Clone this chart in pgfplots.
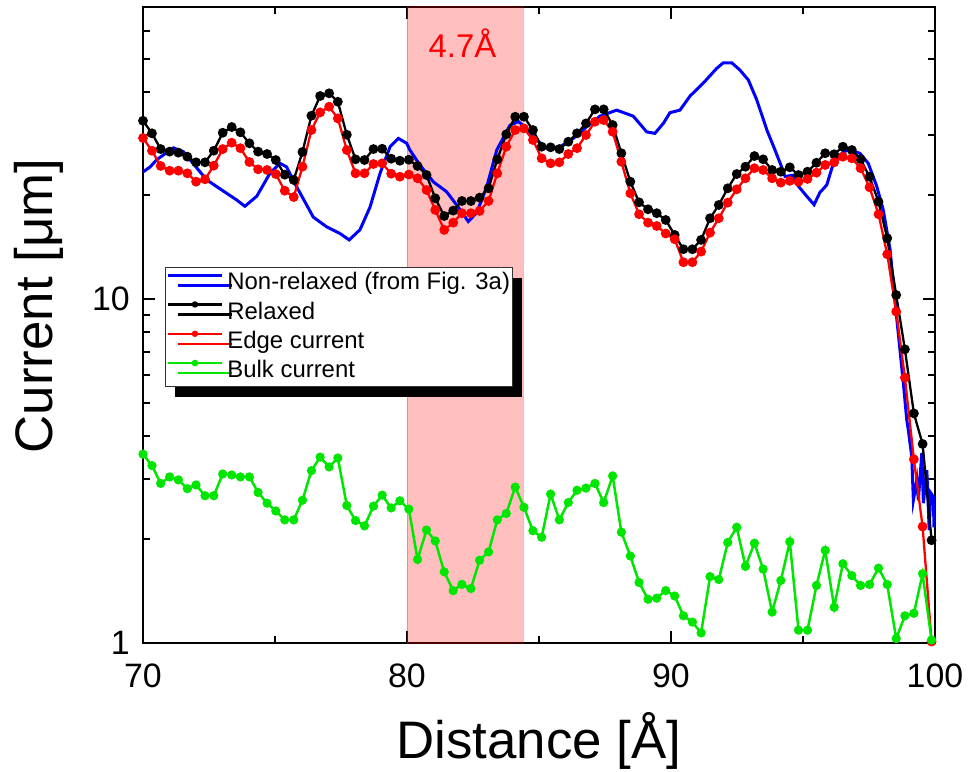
\documentclass[border=0pt]{standalone}
\usepackage{fontspec}
\setmainfont{Liberation Sans}
\usepackage{pgfplots}
\usepackage{pgfplotstable}
\pgfplotsset{compat=1.18}
\usetikzlibrary{shadows}
\definecolor{cgreen}{RGB}{0,230,0}

\pgfplotstableread{
x rel edge bulk
70.00 32.97 29.37 3.54
70.34 30.31 26.97 3.28
70.67 27.28 24.36 2.91
71.01 26.81 23.60 3.04
71.34 26.63 23.60 2.98
71.68 25.92 23.19 2.81
72.01 24.96 21.93 2.88
72.35 24.96 22.28 2.68
72.68 26.97 24.41 2.68
73.02 30.43 27.28 3.10
73.36 31.61 28.46 3.08
73.69 30.51 27.44 3.04
74.03 28.35 25.01 3.04
74.36 26.81 23.82 2.74
74.70 26.39 23.71 2.55
75.03 25.35 23.08 2.42
75.37 22.98 20.64 2.28
75.71 22.18 19.79 2.28
76.04 26.75 24.24 2.60
76.38 34.10 30.98 3.17
76.71 38.91 34.87 3.47
77.05 39.62 36.22 3.25
77.38 37.44 33.50 3.45
77.72 30.03 27.10 2.51
78.05 25.47 23.19 2.27
78.39 25.35 23.19 2.19
78.73 27.28 24.68 2.50
79.06 27.33 24.79 2.69
79.40 25.57 23.13 2.47
79.73 25.23 22.67 2.59
80.07 25.40 23.00 2.45
80.40 24.36 22.43 1.75
80.74 22.93 20.74 2.13
81.07 19.62 18.15 1.98
81.41 17.43 15.88 1.61
81.75 18.07 16.67 1.42
82.08 19.27 17.76 1.48
82.42 19.27 17.76 1.44
82.75 19.71 18.03 1.74
83.09 20.98 19.27 1.84
83.42 25.47 23.19 2.28
83.76 30.11 27.71 2.38
84.10 33.87 30.98 2.84
84.43 33.87 31.33 2.48
84.77 30.98 28.98 2.12
85.10 27.71 25.64 2.03
85.44 27.60 24.79 2.71
85.77 27.28 24.96 2.28
86.11 28.65 26.39 2.56
86.44 30.31 27.44 2.78
86.78 32.39 29.97 2.82
87.12 35.58 32.75 2.91
87.45 35.58 33.12 2.56
87.79 32.04 30.63 3.06
88.12 26.53 25.06 2.10
88.46 21.93 20.29 1.79
88.79 19.10 17.64 1.50
89.13 18.23 16.67 1.34
89.46 17.76 16.30 1.35
89.80 16.97 15.50 1.42
90.14 15.35 14.92 1.37
90.47 13.95 12.79 1.20
90.81 13.95 12.79 1.15
91.14 14.85 13.73 1.07
91.48 17.17 15.59 1.56
91.81 18.76 17.17 1.53
92.15 20.98 19.06 1.96
92.49 23.08 20.84 2.17
92.82 24.24 22.43 1.67
93.16 26.03 24.00 1.95
93.49 25.47 23.71 1.64
93.83 23.71 22.43 1.23
94.16 23.44 21.79 1.52
94.50 24.14 22.05 1.97
94.83 22.93 21.93 1.09
95.17 23.44 22.33 1.09
95.51 24.89 23.29 1.47
95.84 26.53 24.52 1.86
96.18 26.35 24.96 1.27
96.51 27.71 25.92 1.70
96.85 27.10 25.64 1.57
97.18 25.47 24.00 1.47
97.52 22.67 21.12 1.48
97.86 19.18 17.64 1.65
98.19 15.02 13.49 1.48
98.53 10.27 9.19 1.03
98.86 7.14 5.91 1.20
99.20 4.65 3.42 1.22
99.53 3.79 2.18 1.59
99.87 1.99 1.01 1.02
}\dotted

\pgfplotstableread{
x y
70.00 23.4
70.27 24.2
70.52 25.4
71.15 27.5
71.53 26.8
72.41 22.2
72.92 20.9
73.55 19.4
73.86 18.6
74.31 19.9
74.81 23.2
75.19 24.8
75.44 24.2
75.82 21.2
76.45 17.3
76.96 16.2
77.46 15.5
77.81 14.85
78.22 15.9
78.60 18.5
78.98 23.2
79.36 27.7
79.67 29.3
79.99 28.35
80.11 27.1
80.49 24.5
81.00 21.9
81.50 20.5
81.94 18.5
82.32 16.8
82.64 17.8
83.02 21.2
83.40 27.1
83.90 32.0
84.22 32.8
84.53 31.3
84.91 29.0
85.29 27.4
85.80 27.7
86.30 29.3
86.81 31.7
87.31 34.0
87.94 35.4
88.57 34.0
89.08 30.6
89.39 30.3
89.71 32.4
89.96 34.8
90.34 35.4
90.72 38.9
91.22 42.4
91.73 46.8
91.98 48.6
92.30 48.6
92.61 46.3
92.93 43.3
93.25 37.9
93.63 31.0
93.94 27.1
94.19 24.2
94.32 22.7
94.63 22.9
94.82 21.3
95.14 19.9
95.42 18.8
95.64 20.4
95.90 21.45
96.15 24.8
96.53 26.8
96.78 27.1
97.16 26.5
97.47 24.8
97.79 21.3
98.04 18.15
98.30 13.9
98.48 9.93
98.80 5.70
98.93 4.45
98.99 4.16
99.12 3.48
99.18 2.60
99.31 2.98
99.37 2.60
99.50 3.57
99.56 2.55
99.69 3.18
99.78 2.13
99.84 2.73
99.94 2.66
99.96 2.17
}\nonrel

\begin{document}
\begin{tikzpicture}
\useasboundingbox (-143bp,-129bp) rectangle (828bp,643bp);
\begin{axis}[
  at={(0,0)}, anchor=south west,
  scale only axis, width=792bp, height=636bp,
  xmin=70, xmax=100, ymode=log, ymin=1, ymax=70.6,
  xtick={70,80,90,100}, xticklabels={70,80,90,100},
  minor xtick={75,85,95},
  ytick={1,10}, yticklabels={1,10},
  minor ytick={2,3,4,5,6,7,8,9,20,30,40,50,60},
  tick align=inside,
  major tick length=12bp, minor tick length=7bp,
  every tick/.style={black, line width=2bp},
  axis line style={line width=2.5bp},
  tick label style={font=\fontsize{34}{40}\selectfont, inner sep=0pt},
  xticklabel style={anchor=north, yshift=-21bp},
  yticklabel style={anchor=east, xshift=-13bp},
  /pgf/number format/assume math mode=true,
  xlabel={Distance [Å]},
  ylabel={Current [μm]},
  label style={font=\fontsize{53}{60}\selectfont},
  xlabel style={at={(axis description cs:0.5,0)}, anchor=base, yshift=-115bp},
  ylabel style={at={(axis description cs:0,0.53)}, anchor=base, yshift=90bp},
  clip=false,
  legend cell align=left,
  legend style={at={(axis description cs:0.0278,0.591)}, anchor=north west,
    draw=black!80, line width=0.8bp, fill=white,
    font=\fontsize{24}{29}\selectfont, inner sep=1bp, row sep=0pt,
    drop shadow={shadow xshift=10bp, shadow yshift=-10bp, fill=black, opacity=1},
    nodes={inner sep=1bp, text height=20.3bp, text depth=7bp},
    /tikz/every odd column/.append style={column sep=3bp}},
  legend image code/.code={\draw[mark repeat=2,mark phase=2,#1,mark size=2bp]
    plot coordinates {(0bp,8bp) (27bp,8bp) (54bp,8bp)};},
]
\addplot[draw=red, draw opacity=0.3, line width=1bp, fill=red, fill opacity=0.25, forget plot]
  coordinates {(80,1) (84.4,1) (84.4,70.6) (80,70.6)} -- cycle;
\node[text=red, font=\fontsize{33}{40}\selectfont] at (axis cs:82.1,55.5) {4.7Å};
\addplot[blue, line width=3bp] table[x=x,y=y] {\nonrel};
\addlegendentry{Non-relaxed (from Fig. 3a)}
\addplot[black, line width=2.3bp, mark=*, mark size=3.7bp] table[x=x,y=rel] {\dotted};
\addlegendentry{Relaxed}
\addplot[red, line width=2.3bp, mark=*, mark size=3.7bp, mark options={fill=red}] table[x=x,y=edge] {\dotted};
\addlegendentry{Edge current}
\addplot[cgreen, line width=2.5bp, mark=*, mark size=3.3bp, mark options={fill=cgreen}] table[x=x,y=bulk] {\dotted};
\addlegendentry{Bulk current}
\end{axis}
\end{tikzpicture}
\end{document}
